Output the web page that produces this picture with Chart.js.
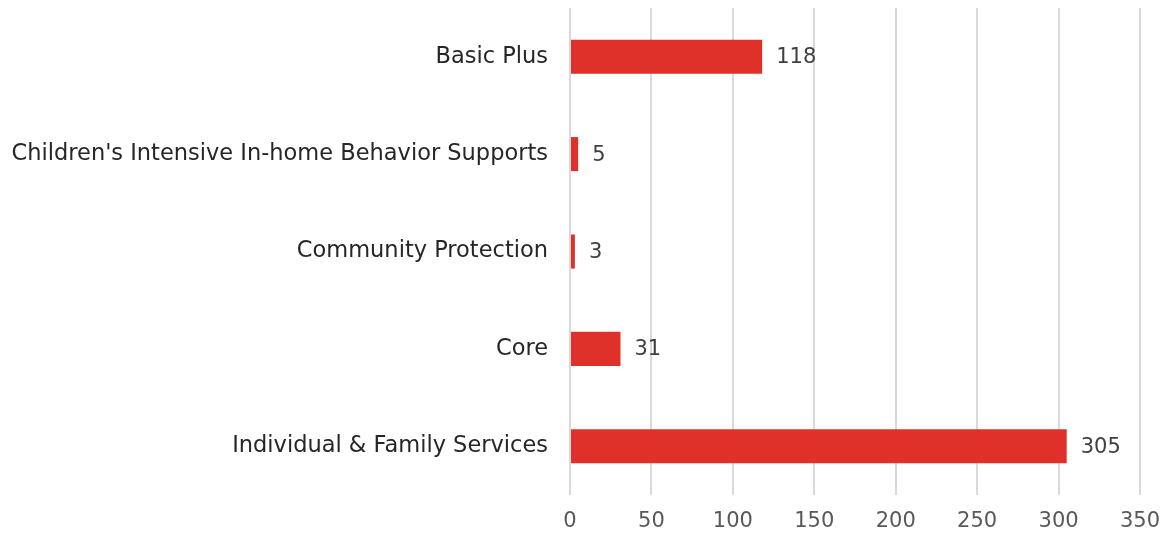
<!DOCTYPE html>
<html>
<head>
<meta charset="utf-8">
<script src="https://cdn.jsdelivr.net/npm/chart.js@4"></script>
<style>
  html, body { margin: 0; padding: 0; background: #fff; }
  #wrap { width: 1168px; height: 537px; }
</style>
</head>
<body>
<div id="wrap"><canvas id="myChart" width="1168" height="537"></canvas></div>
<script>
const categories = [
  'Basic Plus',
  "Children's Intensive In-home Behavior Supports",
  'Community Protection',
  'Core',
  'Individual & Family Services'
];
const counts = [118, 5, 3, 31, 305];
const xTicks = [0, 50, 100, 150, 200, 250, 300, 350];

const FONT = '"DejaVu Sans", sans-serif';

// value labels at the end of each bar
const barLabels = {
  id: 'barLabels',
  afterDatasetsDraw(chart) {
    const ctx = chart.ctx;
    const meta = chart.getDatasetMeta(0);
    ctx.save();
    ctx.font = '21px ' + FONT;
    ctx.fillStyle = '#404040';
    ctx.textAlign = 'left';
    ctx.textBaseline = 'middle';
    meta.data.forEach((bar, i) => {
      ctx.fillText(String(counts[i]), bar.x + 14, bar.y + 1);
    });
    ctx.restore();
  }
};

new Chart(document.getElementById('myChart').getContext('2d'), {
  type: 'bar',
  data: {
    labels: categories,
    datasets: [{
      data: counts,
      backgroundColor: '#E0302A',
      borderWidth: 0,
      barPercentage: 0.7,
      categoryPercentage: 0.5
    }]
  },
  options: {
    indexAxis: 'y',
    responsive: false,
    animation: false,
    layout: { padding: { left: 0, right: 28, top: 8, bottom: 0 } },
    plugins: {
      legend: { display: false },
      tooltip: { enabled: false }
    },
    scales: {
      x: {
        min: 0,
        max: 350,
        afterBuildTicks: s => { s.ticks = xTicks.map(v => ({ value: v })); },
        afterFit: s => { s.height = 42; s.paddingLeft = 0; s.paddingRight = 0; },
        border: { display: false },
        grid: { color: '#D9D9D9', lineWidth: 2, drawTicks: false },
        ticks: { padding: 14, color: '#595959', font: { family: FONT, size: 21 } }
      },
      y: {
        afterFit: s => { s.width = 570; s.paddingTop = 0; s.paddingBottom = 0; },
        border: { display: false },
        grid: { display: false, drawTicks: false },
        ticks: { padding: 22, color: '#262626', font: { family: FONT, size: 22.5 } }
      }
    }
  },
  plugins: [barLabels]
});
</script>
</body>
</html>
